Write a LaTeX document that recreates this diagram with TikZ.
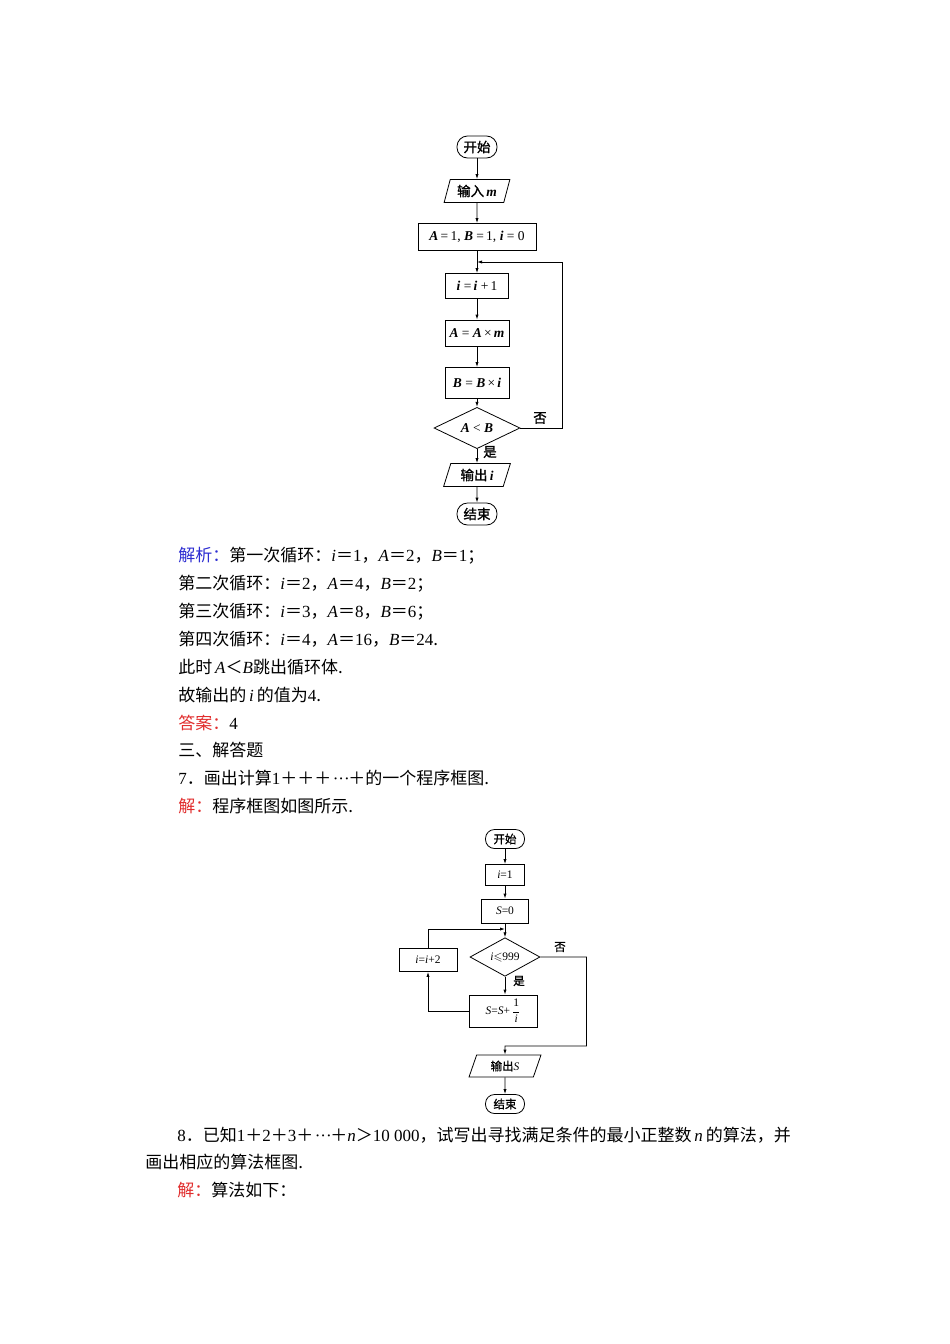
\documentclass[tikz,border=0pt]{standalone}
\usepackage{fontspec}
\usepackage{amssymb}
\setmainfont{Noto Sans CJK SC}
\newfontfamily\cjkb[FakeBold=1.2]{Noto Sans CJK SC}
\newfontfamily\tms{Liberation Serif}
\usetikzlibrary{shapes.geometric,arrows.meta}
\definecolor{jblue}{RGB}{45,45,210}
\definecolor{jred}{RGB}{225,45,45}
\newcommand\va[1]{{\tms\itshape #1}}
\newcommand\vb[1]{{\tms\bfseries\itshape #1}}
\newcommand\nm[1]{{\tms #1}}
\newcommand\cdt{\makebox[1em][s]{\tms\hspace{0.08em}·\hfil·\hfil·\hspace{0.08em}}}
\begin{document}
\begin{tikzpicture}[x=1pt,y=-1pt,line width=0.8pt,
  >={Latex[length=5pt,width=3.2pt]},
  term/.style={draw,rectangle,rounded corners=10.5pt,minimum width=40pt,minimum height=22pt,inner sep=0pt},
  termb/.style={draw,rectangle,rounded corners=9pt,minimum width=39pt,minimum height=19pt,inner sep=0pt},
  proc/.style={draw,rectangle,inner sep=0pt},
  io/.style={draw,trapezium,trapezium left angle=70,trapezium right angle=110,trapezium stretches=true,inner sep=0pt},
  dec/.style={draw,diamond,inner sep=0pt},
  fa/.style={font=\cjkb\fontsize{13.5}{15}\selectfont},
  fb/.style={font=\cjkb\fontsize{11.5}{13}\selectfont},
  body/.style={anchor=base west,inner sep=0pt,font=\fontsize{17}{20}\selectfont}]
\fill[white] (0,0) rectangle (950,1344);
\useasboundingbox (0,0) rectangle (950,1344);

% ---------- first flowchart ----------
\node[term,fa] (st1) at (477,147) {开始};
\node[io,fa,minimum width=66pt,minimum height=23pt] (in1) at (477,191) {输入\,\vb{m}};
\node[proc,fa,minimum width=118pt,minimum height=27pt] (init) at (477,237) {\tms\vb{A}\,=\,1,\ \vb{B}\ =\,1,\ \vb{i}\ =\ 0};
\node[proc,fa,minimum width=63pt,minimum height=25pt] (s1) at (477,286) {\tms\vb{i}\ =\,\vb{i}\ +\,1};
\node[proc,fa,minimum width=64pt,minimum height=26pt] (s2) at (477,333) {\tms\vb{A}\ =\ \vb{A}\,×\,\vb{m}};
\node[proc,fa,minimum width=64pt,minimum height=31pt] (s3) at (477,383) {\tms\vb{B}\ =\ \vb{B}\,×\,\vb{i}};
\node[dec,fa,minimum width=86pt,minimum height=30pt] (d1) at (477,428) {\tms\vb{A}\ <\ \vb{B}};
\node[io,fa,minimum width=67pt,minimum height=23pt] (out1) at (477,475) {输出\,\vb{i}};
\node[term,fa] (end1) at (477,514) {结束};
\coordinate (m1) at (477,262);
\node[fa] (no1) at (540,418) {否};
\node[fa] (yes1) at (490,452) {是};

\draw[->] (st1) -- (in1);
\draw[->] (in1) -- (init);
\draw[->] (init) -- (s1);
\draw[->] (s1) -- (s2);
\draw[->] (s2) -- (s3);
\draw[->] (s3) -- (d1);
\draw[->] (d1) -- (out1);
\draw[->] (out1) -- (end1);
\draw[->] (d1.east) -- ++(42,0) |- (m1);

% ---------- body text ----------
\node[body] (t1) at (178,561) {{\color{jblue}解析：}第一次循环：\va{i}＝\nm{1}，\va{A}＝\nm{2}，\va{B}＝\nm{1}；};
\node[body] (t2) at (178,589) {第二次循环：\va{i}＝\nm{2}，\va{A}＝\nm{4}，\va{B}＝\nm{2}；};
\node[body] (t3) at (178,617) {第三次循环：\va{i}＝\nm{3}，\va{A}＝\nm{8}，\va{B}＝\nm{6}；};
\node[body] (t4) at (178,645) {第四次循环：\va{i}＝\nm{4}，\va{A}＝\nm{16}，\va{B}＝\nm{24}.};
\node[body] (t5) at (178,673) {此时\,\va{A}＜\va{B}跳出循环体.};
\node[body] (t6) at (178,701) {故输出的\,\va{i}\,的值为\nm{4}.};
\node[body] (t7) at (178,729) {{\color{jred}答案：}\nm{4}};
\node[body] (t8) at (178,756) {三、解答题};
\node[body] (t9) at (178,784) {\nm{7}．画出计算\nm{1}＋＋＋\cdt＋的一个程序框图.};
\node[body] (t10) at (178,812) {{\color{jred}解：}程序框图如图所示.};

% ---------- second flowchart ----------
\node[termb,fb] (st2) at (505,839) {开始};
\node[proc,fb,minimum width=39pt,minimum height=21pt] (i1) at (505,875) {\tms\va{i}=1};
\node[proc,fb,minimum width=47pt,minimum height=24pt] (s0) at (505,911) {\tms\va{S}=0};
\node[dec,fb,minimum width=70pt,minimum height=31pt] (d2) at (505,957) {\tms\va{i}$\leqslant$999};
\node[proc,fb,minimum width=58pt,minimum height=23pt] (inc) at (428,960) {\tms\va{i}=\va{i}+2};
\node[proc,fb,minimum width=68pt,minimum height=32pt] (sb) at (503,1011) {\tms\va{S}=\va{S}+\,$\displaystyle\frac{\hbox{\tms 1}}{\hbox{\tms\itshape i}}$};
\node[io,fb,minimum width=72pt,minimum height=22pt] (out2) at (505,1066) {输出\va{S}};
\node[termb,fb] (end2) at (505,1104) {结束};
\coordinate (m2) at (505,929);
\coordinate (j2) at (505,1046);
\node[fb] (no2) at (560,947) {否};
\node[fb] (yes2) at (519,981) {是};

\draw[->] (st2) -- (i1);
\draw[->] (i1) -- (s0);
\draw[->] (s0) -- (d2);
\draw[->] (d2) -- (d2 |- sb.north);
\draw[->] (sb.west) -| (inc.south);
\draw[->] (inc.north) |- (m2);
\draw[->] (d2.east) -- ++(46,0) |- (j2) -- (out2.north);
\draw[->] (out2) -- (end2);

% ---------- bottom text ----------
\node[body] (b1) at (177,1141) {\nm{8}．已知\nm{1}＋\nm{2}＋\nm{3}＋\cdt＋\va{n}＞\nm{10\ 000}，试写出寻找满足条件的最小正整数\,\va{n}\,的算法，并};
\node[body] (b2) at (145,1168) {画出相应的算法框图.};
\node[body] (b3) at (177,1196) {{\color{jred}解：}算法如下：};
\end{tikzpicture}
\end{document}
